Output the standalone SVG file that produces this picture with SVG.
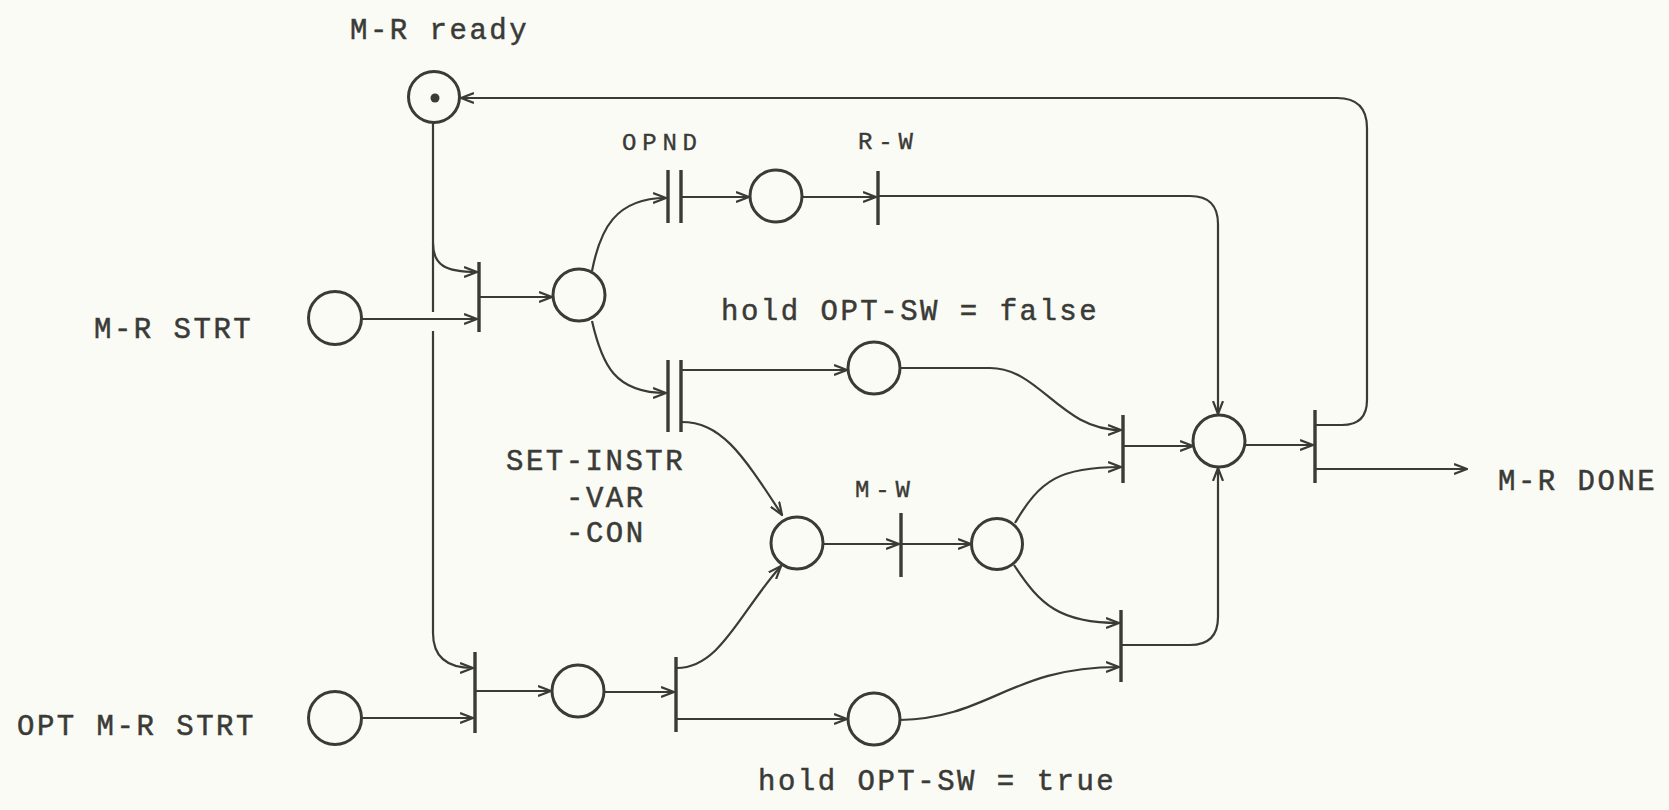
<svg xmlns="http://www.w3.org/2000/svg" width="1669" height="810" viewBox="0 0 1669 810">
<style>
  .bg { fill: #fbfbf6; }
  .place { fill: none; stroke: #3a3a36; stroke-width: 3; }
  .bar { stroke: #3a3a36; stroke-width: 3.4; fill: none; }
  .arc { fill: none; stroke: #3a3a36; stroke-width: 2.2; }
  .lbl { font-family: "Liberation Mono", "DejaVu Sans Mono", monospace; font-size: 29px; letter-spacing: 2.5px; fill: #3a3a36; stroke: #3a3a36; stroke-width: 0.5; }
  .sm { font-family: "Liberation Mono", "DejaVu Sans Mono", monospace; font-size: 24px; letter-spacing: 5.8px; fill: #3a3a36; stroke: #3a3a36; stroke-width: 0.4; }
</style>
<defs>
  <marker id="arr" viewBox="0 0 14 12" refX="13" refY="6" markerWidth="14" markerHeight="12" markerUnits="userSpaceOnUse" orient="auto">
    <path d="M0,1 L13,6 L0,11" fill="none" stroke="#3a3a36" stroke-width="2.2"/>
  </marker>
</defs>
<rect class="bg" x="0" y="0" width="1669" height="810"/>

<g id="connectors">
  <path class="arc" d="M433 123 V 312"/>
  <path class="arc" d="M433 243 C 433 265, 445 272, 477 272" marker-end="url(#arr)"/>
  <path class="arc" d="M433 331 V 633 C 433 655, 445 668, 473 668" marker-end="url(#arr)"/>
  <path class="arc" d="M362 319 H 477" marker-end="url(#arr)"/>
  <path class="arc" d="M479 297 H 552" marker-end="url(#arr)"/>
  <path class="arc" d="M592 271 C 600 230, 615 198, 666 198" marker-end="url(#arr)"/>
  <path class="arc" d="M592 321 C 602 365, 615 393, 666 393" marker-end="url(#arr)"/>
  <path class="arc" d="M682 197 H 749" marker-end="url(#arr)"/>
  <path class="arc" d="M802 197 H 876" marker-end="url(#arr)"/>
  <path class="arc" d="M878 196 H 1190 Q 1218 196 1218 224 V 414" marker-end="url(#arr)"/>
  <path class="arc" d="M681 370 H 847" marker-end="url(#arr)"/>
  <path class="arc" d="M681 422 C 720 422, 740 450, 782 515" marker-end="url(#arr)"/>
  <path class="arc" d="M362 718 H 473" marker-end="url(#arr)"/>
  <path class="arc" d="M475 691 H 551" marker-end="url(#arr)"/>
  <path class="arc" d="M604 692 H 674" marker-end="url(#arr)"/>
  <path class="arc" d="M677 668 C 720 668, 740 612, 781 566" marker-end="url(#arr)"/>
  <path class="arc" d="M677 719 H 847" marker-end="url(#arr)"/>
  <path class="arc" d="M823 544 H 899" marker-end="url(#arr)"/>
  <path class="arc" d="M901 544 H 971" marker-end="url(#arr)"/>
  <path class="arc" d="M1015 523 C 1040 480, 1060 467, 1121 467" marker-end="url(#arr)"/>
  <path class="arc" d="M1014 565 C 1040 605, 1060 623, 1119 623" marker-end="url(#arr)"/>
  <path class="arc" d="M900 368 H 990 C 1040 368, 1060 430, 1121 430" marker-end="url(#arr)"/>
  <path class="arc" d="M900 720 C 990 718, 1010 667, 1119 667" marker-end="url(#arr)"/>
  <path class="arc" d="M1120 645 H 1190 Q 1218 645 1218 617 V 468" marker-end="url(#arr)"/>
  <path class="arc" d="M1123 446 H 1193" marker-end="url(#arr)"/>
  <path class="arc" d="M1245 445 H 1313" marker-end="url(#arr)"/>
  <path class="arc" d="M1315 425 H 1342 Q 1367 425 1367 400 V 128 Q 1367 98 1337 98 H 461" marker-end="url(#arr)"/>
  <path class="arc" d="M1315 469 H 1467" marker-end="url(#arr)"/>
</g>

<g id="mr-ready">
  <circle class="place" cx="434" cy="97" r="25.5"/>
  <circle cx="435" cy="98" r="4.5" fill="#3a3a36"/>
  <text class="lbl" x="350" y="39">M-R ready</text>
</g>
<g id="mr-strt">
  <circle class="place" cx="335" cy="318" r="26.5"/>
  <text class="lbl" x="94" y="338">M-R STRT</text>
</g>
<g id="opt-mr-strt">
  <circle class="place" cx="335" cy="718" r="26.5"/>
  <text class="lbl" x="17" y="735">OPT M-R STRT</text>
</g>
<g id="t1"><line class="bar" x1="479" y1="262" x2="479" y2="332"/></g>
<g id="p1"><circle class="place" cx="579" cy="295" r="26"/></g>
<g id="opnd">
  <line class="bar" x1="668" y1="170" x2="668" y2="223"/>
  <line class="bar" x1="681" y1="170" x2="681" y2="223"/>
  <text class="sm" x="622" y="150">OPND</text>
</g>
<g id="p-opnd"><circle class="place" cx="776" cy="196" r="26"/></g>
<g id="rw">
  <line class="bar" x1="878" y1="171" x2="878" y2="225"/>
  <text class="sm" x="858" y="149">R-W</text>
</g>
<g id="set-instr">
  <line class="bar" x1="668" y1="360" x2="668" y2="432"/>
  <line class="bar" x1="681" y1="360" x2="681" y2="432"/>
  <text class="lbl" x="506" y="470">SET-INSTR</text>
  <text class="lbl" x="566" y="507">-VAR</text>
  <text class="lbl" x="566" y="542">-CON</text>
</g>
<g id="hold-false">
  <circle class="place" cx="874" cy="368" r="26"/>
  <text class="lbl" x="721" y="320">hold OPT-SW = false</text>
</g>
<g id="p-mw-in"><circle class="place" cx="797" cy="543" r="26"/></g>
<g id="mw">
  <line class="bar" x1="901" y1="513" x2="901" y2="577"/>
  <text class="sm" x="855" y="497">M-W</text>
</g>
<g id="p-mw-out"><circle class="place" cx="997" cy="544" r="25.5"/></g>
<g id="t2"><line class="bar" x1="475" y1="652" x2="475" y2="733"/></g>
<g id="p2"><circle class="place" cx="578" cy="691" r="26"/></g>
<g id="t3"><line class="bar" x1="676" y1="657" x2="676" y2="732"/></g>
<g id="hold-true">
  <circle class="place" cx="874" cy="719" r="26"/>
  <text class="lbl" x="758" y="790">hold OPT-SW = true</text>
</g>
<g id="j1"><line class="bar" x1="1123" y1="415" x2="1123" y2="483"/></g>
<g id="j2"><line class="bar" x1="1121" y1="610" x2="1121" y2="682"/></g>
<g id="central"><circle class="place" cx="1219" cy="441" r="26"/></g>
<g id="final">
  <line class="bar" x1="1315" y1="410" x2="1315" y2="483"/>
  <text class="lbl" x="1498" y="490">M-R DONE</text>
</g>
</svg>
